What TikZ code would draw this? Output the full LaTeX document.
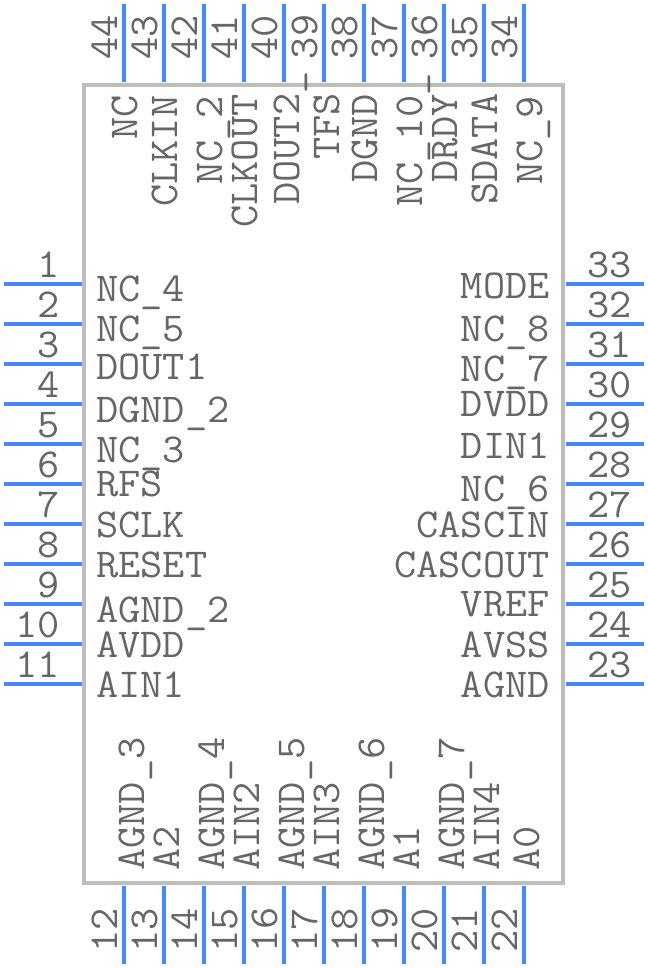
\documentclass[tikz,border=0pt]{standalone}
\usepackage{fontspec}
\setmonofont[FakeStretch=1.05]{Latin Modern Mono}
\definecolor{pinblue}{HTML}{4488FF}
\definecolor{bodygray}{HTML}{BDBDBD}
\definecolor{textgray}{HTML}{666666}
\begin{document}
\begin{tikzpicture}[x=0.75pt,y=-0.75pt]
        \tikzset{
          pinline/.style={pinblue,line width=3pt},
          pintext/.style={textgray,inner sep=0mm,font=\ttfamily\fontsize{30.8}{31}\selectfont},
          pinlabel/.style={pintext},
        }
        \useasboundingbox (0,0) rectangle (648,968);
        %BODY
        \draw[bodygray,line width=3pt] (84,85) rectangle (563,883);
        %PINS LEFT AND RIGHT
        \foreach \i in {1,...,11}{
            \pgfmathtruncatemacro{\n}{34-\i}
            \draw[pinline] (4,244+40*\i) -- ++(78,0);
            \draw[pinline] (566,244+40*\i) -- ++(78,0);
            \node[pintext,anchor=base east] (num\i) at (60,237+40*\i) {\i};
            \node[pintext,anchor=base east] (num\n) at (632,237+40*\i) {\n};
        }
        %PINS BOTTOM AND TOP
        \foreach \i in {1,...,11}{
            \pgfmathtruncatemacro{\n}{\i+11}
            \pgfmathtruncatemacro{\m}{45-\i}
            \draw[pinline] (84+40*\i,886) -- ++(0,78);
            \draw[pinline] (84+40*\i,4) -- ++(0,78);
            \node[pintext,rotate=90,anchor=base] (num\n) at (77+40*\i,930) {\n};
            \node[pintext,rotate=90,anchor=base] (num\m) at (77+40*\i,37) {\m};
        }
        %LABELS LEFT
        \foreach \y/\t [count=\i] in {301/NC\_4,341/NC\_5,379/DOUT1,422/DGND\_2,462/NC\_3,496/RFS,537/SCLK,577/RESET,622/AGND\_2,657/AVDD,697/AIN1}{
            \node[pinlabel,anchor=base west] (l\i) at (96,\y) {\t};
        }
        %LABELS RIGHT
        \foreach \y/\t [count=\i] in {298/MODE,341/NC\_8,381/NC\_7,416/DVDD,458/DIN1,501/NC\_6,537/CASCIN,577/CASCOUT,616/VREF,657/AVSS,697/AGND}{
            \node[pinlabel,anchor=base east] (r\i) at (550,\y) {\t};
        }
        %LABELS TOP
        \foreach \x/\y/\t [count=\i] in {137/140/NC,177/207/CLKIN,222/185/NC\_2,257/228/CLKOUT,299/205/DOUT2\_,339/160/TFS,377/183/DGND,422/207/NC\_10\_,457/183/DRDY,497/205/SDATA,542/185/NC\_9}{
            \node[pinlabel,rotate=90,anchor=base west] (t\i) at (\x,\y) {\t};
        }
        %LABELS BOTTOM
        \foreach \x/\t [count=\i] in {144/AGND\_3,179/A2,224/AGND\_4,259/AIN2,304/AGND\_5,339/AIN3,384/AGND\_6,419/A1,464/AGND\_7,499/AIN4,539/A0}{
            \node[pinlabel,rotate=90,anchor=base west] (b\i) at (\x,871) {\t};
        }
    \end{tikzpicture}
\end{document}
